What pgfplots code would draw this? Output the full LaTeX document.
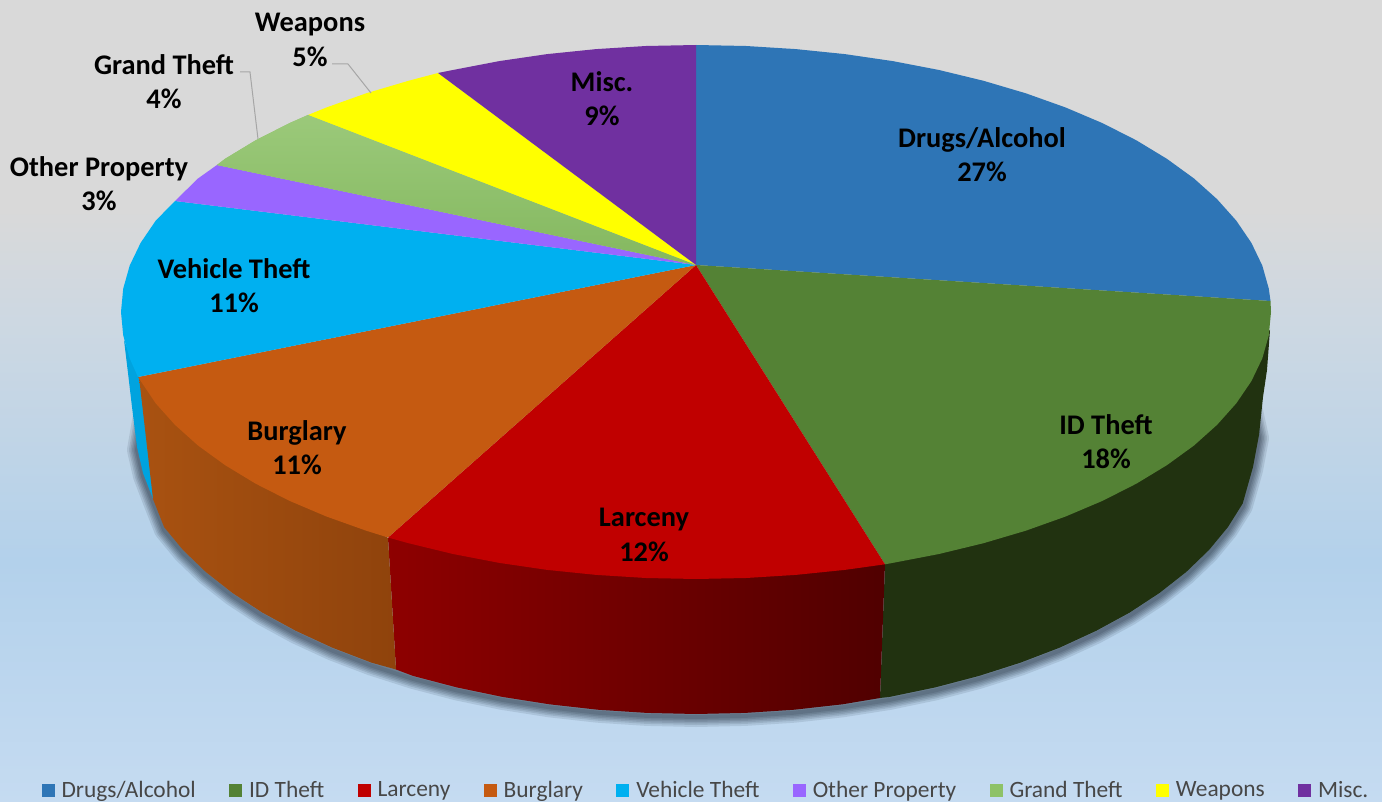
\documentclass[border=0pt]{standalone}
\usepackage{pgfplots}
\pgfplotsset{compat=1.18}
\usepackage{pgfplotstable}
\usepackage{fontspec}
\setmainfont{Carlito}
\definecolor{cDrugs}{HTML}{2E75B6}
\definecolor{cID}{HTML}{548235}
\definecolor{cLarc}{HTML}{C00000}
\definecolor{cBurg}{HTML}{C55A11}
\definecolor{cVeh}{HTML}{00B0F0}
\definecolor{cOther}{HTML}{9966FF}
\definecolor{cGrand}{HTML}{8EC267}
\definecolor{cWeap}{HTML}{FFFF00}
\definecolor{cMisc}{HTML}{7030A0}
\definecolor{bgA}{HTML}{C5DBF1}
\definecolor{bgB}{HTML}{B3D1EB}
\definecolor{bgC}{HTML}{CDD8E2}
\definecolor{bgD}{HTML}{D9D9D9}
\definecolor{wallBlue}{HTML}{00A3DF}
\definecolor{wallGreen}{HTML}{213210}
\definecolor{redA}{HTML}{8E0000}
\definecolor{redB}{HTML}{500000}
\definecolor{orA}{HTML}{A95211}
\definecolor{orB}{HTML}{8F430C}
\definecolor{grA}{HTML}{9BC97A}
\definecolor{grB}{HTML}{84B85F}
\definecolor{shadowC}{HTML}{303E4E}
\pgfdeclareverticalshading{chartbg}{100bp}{color(0bp)=(bgA); color(25bp)=(bgA); color(40bp)=(bgB); color(55bp)=(bgC); color(62bp)=(bgD); color(100bp)=(bgD)}
\pgfplotstableread{
x y
1248 385
1259 435
1253 467
1242.7 503.5
1227.9 527.1
1209 550
1186.2 572
1159.6 592.9
1129.6 612.6
1096.2 630.8
1059.8 647.6
1020.6 662.6
979 675.9
935.2 687.4
889.6 696.9
842.5 704.3
794.3 709.7
745.3 712.9
696 714
646.7 712.9
597.7 709.7
549.5 704.3
502.4 696.9
456.8 687.4
413 675.9
371.4 662.6
332.2 647.6
295.8 630.8
262.4 612.6
232.4 592.9
205.8 572
183 550
164.1 527.1
153 499
143 473
137 447
146 395
}\rimtable
\pgfplotstableread{
x y
696 265
217 165
225 158.9
255.5 140.4
289.4 123.2
308 115
}\grandtable
\begin{document}
\begin{tikzpicture}
\begin{axis}[
  width=1382pt,height=802pt,scale only axis,
  xmin=0,xmax=1382,ymin=0,ymax=802,y dir=reverse,
  hide axis,
  legend columns=9,
  legend cell align=left,
  legend image code/.code={\path[#1,draw=none] (0pt,-6.5pt) rectangle (13pt,6.5pt);},
  legend style={at={(axis cs:706,790)},anchor=center,draw=none,fill=none,
    font=\fontsize{23.4}{26}\selectfont,text=black!72,inner sep=0pt,outer sep=0pt,
    /tikz/every even column/.append style={column sep=31.3pt},
    /tikz/every odd column/.append style={column sep=5pt}},
]
% background
\addplot[forget plot,draw=none,shade,shading=chartbg] coordinates {(0,0)(1382,0)(1382,802)(0,802)} --cycle;
% shadow
\addplot[forget plot,draw=shadowC,line width=20pt,opacity=.13,yshift=-3pt,line cap=round,line join=round] table {\rimtable};
\addplot[forget plot,draw=shadowC,line width=16pt,opacity=.14,yshift=-3pt,line cap=round,line join=round] table {\rimtable};
\addplot[forget plot,draw=shadowC,line width=13pt,opacity=.15,yshift=-3pt,line cap=round,line join=round] table {\rimtable};
\addplot[forget plot,draw=shadowC,line width=10pt,opacity=.16,yshift=-3pt,line cap=round,line join=round] table {\rimtable};
\addplot[forget plot,draw=shadowC,line width=7pt,opacity=.18,yshift=-3pt,line cap=round,line join=round] table {\rimtable};
\addplot[forget plot,draw=shadowC,line width=4pt,opacity=.2,yshift=-3pt,line cap=round,line join=round] table {\rimtable};
% walls
\addplot[forget plot,draw=none,fill=wallBlue] coordinates {(124,340)(128,373)(132,407)(137,447)(143,473)(153,499)(160,440)(139,377)} --cycle;
\addplot[forget plot,draw=none,fill=wallGreen] coordinates {(1270,330)(1267,370)(1263,397)(1259,435)(1253,467)(1242.7,503.5)(1227.9,527.1)(1209,550)(1186.2,572)(1159.6,592.9)(1129.6,612.6)(1096.2,630.8)(1059.8,647.6)(1020.6,662.6)(979,675.9)(935.2,687.4)(889.6,696.9)(880,698)(885,564)(1100,450)} --cycle;
\addplot[forget plot,draw=none,left color=redA,right color=redB] coordinates {(885,564)(880,698)(842.5,704.3)(794.3,709.7)(745.3,712.9)(696,714)(646.7,712.9)(597.7,709.7)(549.5,704.3)(502.4,696.9)(456.8,687.4)(413,675.9)(396,669.5)(388,538)} --cycle;
\addplot[forget plot,draw=none,left color=orA,right color=orB] coordinates {(388,538)(396,669.5)(371.4,662.6)(332.2,647.6)(295.8,630.8)(262.4,612.6)(232.4,592.9)(205.8,572)(183,550)(164.1,527.1)(153,499)(139,377)} --cycle;
% top slices
\addplot[draw=none,fill=cDrugs] coordinates {(696,265)(696,45)(746.1,46)(795.8,49.1)(844.8,54.1)(892.7,61.1)(939,70)(983.5,80.8)(1025.8,93.3)(1065.6,107.5)(1102.6,123.2)(1136.5,140.4)(1167,158.9)(1194,178.5)(1217.1,199.2)(1236.3,220.7)(1251.4,242.9)(1262.3,265.6)(1268.8,288.7)(1270.5,301)} --cycle;
\addlegendentry{Drugs/Alcohol}
\addplot[draw=none,fill=cID] coordinates {(696,265)(1270.5,301)(1271,312)(1268.8,335.3)(1262.3,358.4)(1251.4,381.1)(1236.3,403.3)(1217.1,424.8)(1194,445.5)(1167,465.1)(1136.5,483.6)(1102.6,500.8)(1065.6,516.5)(1025.8,530.7)(983.5,543.2)(939,554)(892.7,562.9)(885,564.3)} --cycle;
\addlegendentry{ID Theft}
\addplot[draw=none,fill=cLarc] coordinates {(696,265)(885,564.3)(844.8,569.9)(795.8,574.9)(746.1,578)(696,579)(645.9,578)(596.2,574.9)(547.2,569.9)(499.3,562.9)(453,554)(408.5,543.2)(388,537.5)} --cycle;
\addlegendentry{Larceny}
\addplot[draw=none,fill=cBurg] coordinates {(696,265)(388,537.5)(366.2,530.7)(326.4,516.5)(289.4,500.8)(255.5,483.6)(225,465.1)(198,445.5)(174.9,424.8)(155.7,403.3)(138,377)} --cycle;
\addlegendentry{Burglary}
\addplot[draw=none,fill=cVeh] coordinates {(696,265)(138,377)(129.7,358.4)(123.2,335.3)(121,312)(123.2,288.7)(129.7,265.6)(140.6,242.9)(155.7,220.7)(175,201)} --cycle;
\addlegendentry{Vehicle Theft}
\addplot[draw=none,fill=cOther] coordinates {(696,265)(175,201)(198,178.5)(217,165)} --cycle;
\addlegendentry{Other Property}
\addplot[draw=none,fill=cGrand] table {\grandtable} --cycle;
\addlegendentry{Grand Theft}
\addplot[draw=none,fill=cWeap] coordinates {(696,265)(308,115)(326.4,107.5)(366.2,93.3)(408.5,80.8)(438,73)} --cycle;
\addlegendentry{Weapons}
\addplot[draw=none,fill=cMisc] coordinates {(696,265)(438,73)(453,70)(499.3,61.1)(547.2,54.1)(596.2,49.1)(645.9,46)(696,45)} --cycle;
\addlegendentry{Misc.}
% gradient on the Grand Theft slice
\addplot[forget plot,draw=none,top color=grA,bottom color=grB] table {\grandtable} --cycle;
% leaders
\addplot[forget plot,draw=black!35,line width=1pt] coordinates {(240,72)(250,72)(258,139)};
\addplot[forget plot,draw=black!35,line width=1pt] coordinates {(332,64)(348,64)(371,93)};
% labels
\tikzset{lab/.style={font=\fontsize{28.4}{34.3}\bfseries\selectfont,align=center,text=black,inner sep=0pt}}
\node[lab] at (axis cs:982,155) {Drugs/Alcohol\\27\%};
\node[lab] at (axis cs:1106,442) {ID Theft\\18\%};
\node[lab] at (axis cs:644,535) {Larceny\\12\%};
\node[lab] at (axis cs:297,448) {Burglary\\11\%};
\node[lab] at (axis cs:234,286) {Vehicle Theft\\11\%};
\node[lab] at (axis cs:99,184) {Other Property\\3\%};
\node[lab] at (axis cs:164,82) {Grand Theft\\4\%};
\node[lab] at (axis cs:310,40) {Weapons\\5\%};
\node[lab] at (axis cs:602,99) {Misc.\\9\%};
\end{axis}
\end{tikzpicture}
\end{document}
